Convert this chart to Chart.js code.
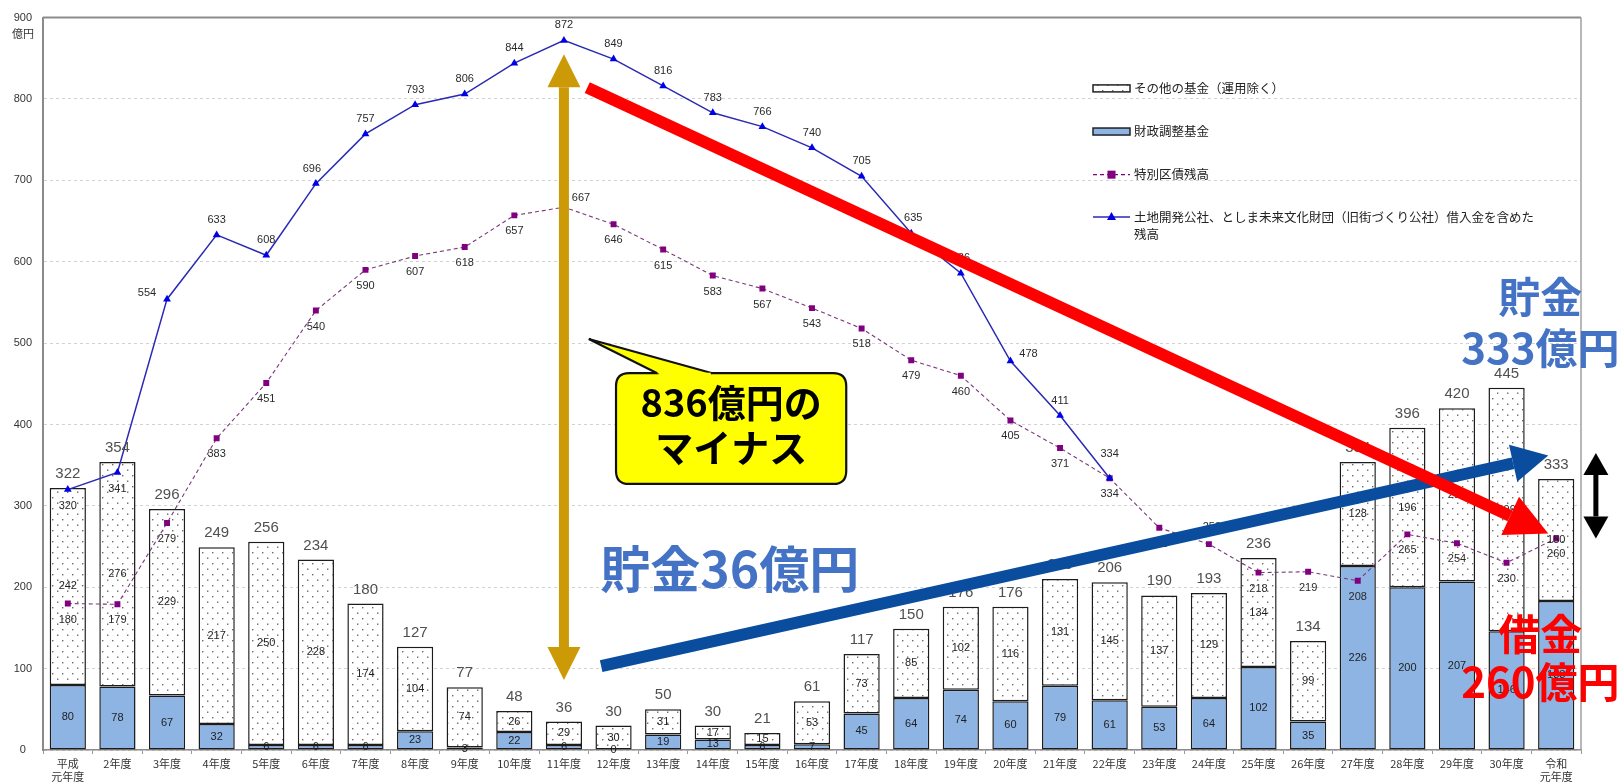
<!DOCTYPE html>
<html lang="ja">
<head>
<meta charset="utf-8">
<title>基金残高と特別区債残高の推移</title>
<script src="https://cdn.jsdelivr.net/npm/chart.js@4.4.1/dist/chart.umd.min.js"></script>
<style>
  html, body { margin: 0; padding: 0; background: #ffffff; }
  #wrap { position: relative; width: 1621px; height: 782px; }
</style>
</head>
<body>
<div id="wrap"><canvas id="c" width="1621" height="782"></canvas></div>
<script>
// ---- data (億円) ----
const years = [
  ['平成', '元年度'], '2年度', '3年度', '4年度', '5年度', '6年度', '7年度', '8年度', '9年度', '10年度',
  '11年度', '12年度', '13年度', '14年度', '15年度', '16年度', '17年度', '18年度', '19年度', '20年度',
  '21年度', '22年度', '23年度', '24年度', '25年度', '26年度', '27年度', '28年度', '29年度', '30年度',
  ['令和', '元年度']
];

// 財政調整基金
const fiscalFund = [80, 78, 67, 32, 6, 6, 6, 23, 3, 22, 6, 0, 19, 13, 6, 7, 45, 64, 74, 60, 79, 61, 53, 64, 102, 35, 226, 200, 207, 146, 183];
// その他の基金（運用除く）
const otherFunds = [242, 276, 229, 217, 250, 228, 174, 104, 74, 26, 29, 30, 31, 17, 15, 53, 73, 85, 102, 116, 131, 145, 137, 129, 134, 99, 128, 196, 213, 299, 150];
// 基金合計
const fundTotals = [322, 354, 296, 249, 256, 234, 180, 127, 77, 48, 36, 30, 50, 30, 21, 61, 117, 150, 176, 176, 210, 206, 190, 193, 236, 134, 354, 396, 420, 445, 333];
// 特別区債残高
const wardBonds = [180, 179, 279, 383, 451, 540, 590, 607, 618, 657, 667, 646, 615, 583, 567, 543, 518, 479, 460, 405, 371, 334, 273, 253, 218, 219, 208, 265, 254, 230, 260];
// 土地開発公社、としま未来文化財団（旧街づくり公社）借入金を含めた残高
const debtWithCorps = [320, 341, 554, 633, 608, 696, 757, 793, 806, 844, 872, 849, 816, 783, 766, 740, 705, 635, 586, 478, 411, 334,
  null, null, null, null, null, null, null, null, null];

const yTicks = [0, 100, 200, 300, 400, 500, 600, 700, 800, 900];

const legendLabels = [
  'その他の基金（運用除く）',
  '財政調整基金',
  '特別区債残高',
  ['土地開発公社、としま未来文化財団（旧街づくり公社）借入金を含めた', '残高']
];

// ---- styles ----
const NUM_FONT = '"Liberation Sans", Arial, sans-serif';
const JP_FONT = '"Noto Sans CJK JP", "Noto Sans", sans-serif';
const BLUE_FILL = '#8db4e2';
const BOND_COLOR = '#800080';
const DEBT_LINE = '#2a2ab4';
const DEBT_MARK = '#0000e8';

const canvas = document.getElementById('c');
const ctx0 = canvas.getContext('2d');

function dotPattern() {
  const t = document.createElement('canvas');
  t.width = 10; t.height = 11;
  const g = t.getContext('2d');
  g.fillStyle = '#ffffff';
  g.fillRect(0, 0, 10, 11);
  g.fillStyle = '#6a6a6a';
  g.fillRect(2, 2, 1.4, 1.4);
  g.fillRect(7, 7.5, 1.4, 1.4);
  return ctx0.createPattern(t, 'repeat');
}
const dots = dotPattern();

// ---- drawing helpers ----
function arrow(ctx, x1, y1, x2, y2, w, hw, hl, color, both) {
  const dx = x2 - x1, dy = y2 - y1, len = Math.hypot(dx, dy);
  const ux = dx / len, uy = dy / len, nx = -uy, ny = ux;
  const s = both ? hl : 0, e = len - hl;
  ctx.save();
  ctx.fillStyle = color;
  ctx.beginPath();
  ctx.moveTo(x1 + ux * s + nx * w / 2, y1 + uy * s + ny * w / 2);
  ctx.lineTo(x1 + ux * e + nx * w / 2, y1 + uy * e + ny * w / 2);
  ctx.lineTo(x1 + ux * e - nx * w / 2, y1 + uy * e - ny * w / 2);
  ctx.lineTo(x1 + ux * s - nx * w / 2, y1 + uy * s - ny * w / 2);
  ctx.closePath();
  ctx.fill();
  const head = (tx, ty, dirx, diry) => {
    const bx = tx - dirx * hl, by = ty - diry * hl;
    ctx.beginPath();
    ctx.moveTo(tx, ty);
    ctx.lineTo(bx + -diry * hw / 2, by + dirx * hw / 2);
    ctx.lineTo(bx - -diry * hw / 2, by - dirx * hw / 2);
    ctx.closePath();
    ctx.fill();
  };
  head(x2, y2, ux, uy);
  if (both) head(x1, y1, -ux, -uy);
  ctx.restore();
}

function roundRectPath(ctx, x, y, w, h, r) {
  ctx.beginPath();
  ctx.moveTo(x + r, y);
  ctx.lineTo(x + w - r, y);
  ctx.quadraticCurveTo(x + w, y, x + w, y + r);
  ctx.lineTo(x + w, y + h - r);
  ctx.quadraticCurveTo(x + w, y + h, x + w - r, y + h);
  ctx.lineTo(x + r, y + h);
  ctx.quadraticCurveTo(x, y + h, x, y + h - r);
  ctx.lineTo(x, y + r);
  ctx.quadraticCurveTo(x, y, x + r, y);
  ctx.closePath();
}

// value labels on bars and lines
const valueLabels = {
  id: 'valueLabels',
  afterDatasetsDraw(chart) {
    const ctx = chart.ctx;
    const metaBlue = chart.getDatasetMeta(0);
    const metaOther = chart.getDatasetMeta(1);
    const metaBond = chart.getDatasetMeta(2);
    const metaDebt = chart.getDatasetMeta(3);
    ctx.save();
    ctx.textAlign = 'center';
    ctx.textBaseline = 'middle';
    ctx.font = '11px ' + NUM_FONT;
    ctx.fillStyle = '#1e1e1e';
    metaBlue.data.forEach((el, i) => {
      const p = el.getProps(['x', 'y', 'base'], true);
      ctx.fillText(String(fiscalFund[i]), p.x, (p.y + p.base) / 2);
    });
    metaOther.data.forEach((el, i) => {
      const p = el.getProps(['x', 'y', 'base'], true);
      ctx.fillText(String(otherFunds[i]), p.x, (p.y + p.base) / 2);
    });
    // totals above each stacked bar
    ctx.font = '15px ' + NUM_FONT;
    ctx.fillStyle = '#505050';
    ctx.textBaseline = 'alphabetic';
    metaOther.data.forEach((el, i) => {
      const p = el.getProps(['x', 'y'], true);
      ctx.fillText(String(fundTotals[i]), p.x, p.y - 10);
    });
    // 特別区債残高 labels
    ctx.font = '11px ' + NUM_FONT;
    ctx.fillStyle = '#2a2a2a';
    ctx.textBaseline = 'middle';
    metaBond.data.forEach((el, i) => {
      const p = el.getProps(['x', 'y'], true);
      let dx = 0, dy = 16;
      if (i === 10) { dx = 17; dy = -9; }
      if (i === 23) { dx = 3; dy = -17; }
      ctx.fillText(String(wardBonds[i]), p.x + dx, p.y + dy);
    });
    // 借入金を含めた残高 labels
    metaDebt.data.forEach((el, i) => {
      if (debtWithCorps[i] === null) return;
      const p = el.getProps(['x', 'y'], true);
      let dx = 0, dy = -15;
      if (i === 0 || i === 1) { dy = 16; }
      if (i === 2) { dx = -20; dy = -6; }
      if (i === 5) { dx = -4; }
      if (i === 17) { dx = 2; }
      if (i === 19) { dx = 18; dy = -7; }
      if (i === 21) { dy = -24; }
      ctx.fillText(String(debtWithCorps[i]), p.x + dx, p.y + dy);
    });
    ctx.restore();
  }
};

// frame, unit label, legend and highlight annotations
const overlay = {
  id: 'overlay',
  afterDraw(chart) {
    const ctx = chart.ctx;
    const a = chart.chartArea;
    const xs = chart.scales.x, ys = chart.scales.y;
    const X = v => xs.getPixelForValue(v);
    const Y = v => ys.getPixelForValue(v);

    ctx.save();
    // plot frame (top / right)
    ctx.strokeStyle = '#8c8c8c';
    ctx.lineWidth = 2;
    ctx.beginPath();
    ctx.moveTo(a.left, a.top); ctx.lineTo(a.right, a.top);
    ctx.stroke();
    ctx.lineWidth = 1.5;
    ctx.strokeStyle = '#a0a0a0';
    ctx.beginPath();
    ctx.moveTo(a.right, a.top); ctx.lineTo(a.right, a.bottom);
    ctx.stroke();

    // unit under the top tick
    ctx.font = '11px ' + JP_FONT;
    ctx.fillStyle = '#333';
    ctx.textAlign = 'center';
    ctx.textBaseline = 'middle';
    ctx.fillText('億円', 23, Y(900) + 16);

    // legend
    const lx = a.right - 488, lw = 37, tx = lx + 41;
    const rows = [Y(813), Y(760), Y(707), Y(655)];
    ctx.textAlign = 'left';
    ctx.font = '12.5px ' + JP_FONT;
    ctx.textBaseline = 'middle';
    // その他の基金
    ctx.fillStyle = dots;
    ctx.fillRect(lx, rows[0] - 3.5, lw, 7);
    ctx.strokeStyle = '#222'; ctx.lineWidth = 1.5;
    ctx.strokeRect(lx, rows[0] - 3.5, lw, 7);
    // 財政調整基金
    ctx.fillStyle = BLUE_FILL;
    ctx.fillRect(lx, rows[1] - 3.5, lw, 7);
    ctx.strokeRect(lx, rows[1] - 3.5, lw, 7);
    // 特別区債残高
    ctx.strokeStyle = BOND_COLOR; ctx.lineWidth = 1.2;
    ctx.setLineDash([4, 3]);
    ctx.beginPath(); ctx.moveTo(lx, rows[2]); ctx.lineTo(lx + lw, rows[2]); ctx.stroke();
    ctx.setLineDash([]);
    ctx.fillStyle = BOND_COLOR;
    ctx.fillRect(lx + lw / 2 - 4, rows[2] - 4, 8, 8);
    // 借入金を含めた残高
    ctx.strokeStyle = DEBT_LINE; ctx.lineWidth = 1.5;
    ctx.beginPath(); ctx.moveTo(lx, rows[3]); ctx.lineTo(lx + lw, rows[3]); ctx.stroke();
    ctx.fillStyle = DEBT_MARK;
    ctx.beginPath();
    ctx.moveTo(lx + lw / 2, rows[3] - 5);
    ctx.lineTo(lx + lw / 2 + 4.5, rows[3] + 3);
    ctx.lineTo(lx + lw / 2 - 4.5, rows[3] + 3);
    ctx.closePath(); ctx.fill();
    ctx.fillStyle = '#222';
    ctx.fillText(legendLabels[0], tx, rows[0]);
    ctx.fillText(legendLabels[1], tx, rows[1]);
    ctx.fillText(legendLabels[2], tx, rows[2]);
    ctx.fillText(legendLabels[3][0], tx, rows[3]);
    ctx.fillText(legendLabels[3][1], tx, rows[3] + 17);

    // gold double arrow at the debt peak year
    arrow(ctx, X(10), Y(855), X(10), Y(86), 10, 33, 33, '#cc9a06', true);
    // blue arrow: savings rising
    arrow(ctx, X(10.75), Y(103), X(29.84), Y(362), 12, 38, 36, '#0a4c9e', false);
    // red arrow: debt falling
    arrow(ctx, X(10.47), Y(814), X(29.84), Y(266), 12, 42, 42, '#ff0000', false);
    // black double arrow beside the last year
    arrow(ctx, X(30.8), Y(365), X(30.8), Y(260), 5, 25, 22, '#000000', true);

    // callout box
    const bl = X(11.05), br = X(15.69), bt = Y(463), bb = Y(327);
    ctx.lineWidth = 2.2;
    ctx.strokeStyle = '#111';
    ctx.fillStyle = '#ffff00';
    roundRectPath(ctx, bl, bt, br - bl, bb - bt, 13);
    ctx.fill();
    ctx.stroke();
    // pointer
    ctx.beginPath();
    ctx.moveTo(X(11.88), bt);
    ctx.lineTo(X(10.5), Y(505));
    ctx.lineTo(X(12.99), bt);
    ctx.closePath();
    ctx.fill();
    ctx.beginPath();
    ctx.moveTo(X(11.88), bt);
    ctx.lineTo(X(10.5), Y(505));
    ctx.lineTo(X(12.99), bt);
    ctx.stroke();
    ctx.fillStyle = '#ffff00';
    ctx.fillRect(X(11.88) + 1.5, bt - 0.5, X(12.99) - X(11.88) - 3, 2.5);

    ctx.fillStyle = '#000';
    ctx.textAlign = 'center';
    ctx.textBaseline = 'middle';
    ctx.font = 'bold 38px ' + JP_FONT;
    const cx = (bl + br) / 2;
    ctx.fillText('836億円の', cx, Y(427));
    ctx.fillText('マイナス', cx, Y(372));

    // savings / borrowing captions
    ctx.fillStyle = '#4472c4';
    ctx.textAlign = 'left';
    ctx.font = 'bold 50px ' + JP_FONT;
    ctx.fillText('貯金36億円', X(10.73), Y(222));

    ctx.textAlign = 'center';
    ctx.font = 'bold 42px ' + JP_FONT;
    ctx.fillText('貯金', X(29.68), Y(557));
    ctx.fillText('333億円', X(29.68), Y(494));
    ctx.fillStyle = '#ff0000';
    ctx.fillText('借金', X(29.68), Y(143));
    ctx.fillText('260億円', X(29.68), Y(83));
    ctx.restore();
  }
};

new Chart(canvas, {
  data: {
    labels: years,
    datasets: [
      {
        type: 'bar', label: '財政調整基金', data: fiscalFund,
        backgroundColor: BLUE_FILL, borderColor: '#1c1c1c', borderWidth: 1.5, borderSkipped: false,
        stack: 'funds', order: 2, barPercentage: 0.73, categoryPercentage: 1
      },
      {
        type: 'bar', label: 'その他の基金（運用除く）', data: otherFunds,
        backgroundColor: dots, borderColor: '#1c1c1c', borderWidth: 1.5, borderSkipped: false,
        stack: 'funds', order: 2, barPercentage: 0.73, categoryPercentage: 1
      },
      {
        type: 'line', label: '特別区債残高', data: wardBonds,
        borderColor: '#7a3a7a', borderWidth: 1.1, borderDash: [4, 3],
        pointStyle: 'rect', pointRadius: 4.2, pointBackgroundColor: BOND_COLOR, pointBorderColor: BOND_COLOR,
        pointBorderWidth: 0, tension: 0, stack: 'bonds', order: 1
      },
      {
        type: 'line', label: '土地開発公社、としま未来文化財団（旧街づくり公社）借入金を含めた残高', data: debtWithCorps,
        borderColor: DEBT_LINE, borderWidth: 1.5,
        pointStyle: 'triangle', pointRadius: 4.5, pointBackgroundColor: DEBT_MARK, pointBorderColor: DEBT_MARK,
        pointBorderWidth: 0, tension: 0, spanGaps: false, stack: 'debt', order: 0
      }
    ]
  },
  options: {
    responsive: false,
    animation: false,
    devicePixelRatio: 1,
    layout: { padding: { left: 12, right: 40, top: 15, bottom: 0 } },
    plugins: { legend: { display: false }, tooltip: { enabled: false } },
    scales: {
      x: {
        stacked: true,
        offset: true,
        grid: { display: true, drawOnChartArea: false, drawTicks: true, tickLength: 4, color: '#999', offset: true },
        border: { color: '#8c8c8c', width: 1.5 },
        ticks: { autoSkip: false, maxRotation: 0, minRotation: 0, padding: 3, color: '#333', font: { family: JP_FONT, size: 11 }, lineHeight: 1.1 },
        afterFit(s) { s.height = 32; }
      },
      y: {
        stacked: true,
        min: 0, max: 900,
        afterBuildTicks(s) { s.ticks = yTicks.map(v => ({ value: v })); },
        ticks: { crossAlign: 'center', padding: 11, color: '#333', font: { family: NUM_FONT, size: 11 } },
        grid: { color: '#d2d2d2', drawTicks: false, tickLength: 0, lineWidth: 1 },
        border: { color: '#8a8a8a', width: 2, dash: [3, 3] },
        afterFit(s) { s.width = 31; }
      }
    }
  },
  plugins: [valueLabels, overlay]
});
</script>
</body>
</html>
